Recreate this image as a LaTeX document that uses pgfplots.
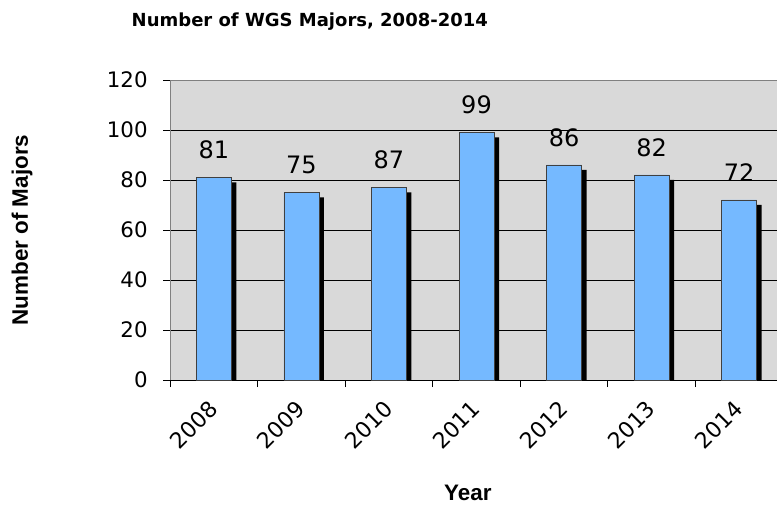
\documentclass[border=0pt]{standalone}
\usepackage{fontspec}
\setmainfont{DejaVu Sans}
\newfontfamily\labelfont{Liberation Sans}
\usepackage{pgfplots}
\pgfplotsset{compat=1.18}
\definecolor{BarBlue}{HTML}{75B9FF}
\definecolor{PlotGray}{HTML}{D9D9D9}
\definecolor{EdgeGray}{HTML}{808080}

\begin{document}
\begin{tikzpicture}
\useasboundingbox (0,0) rectangle (582.75pt,379.5pt);
\clip (0,0) rectangle (582.75pt,379.5pt);
\begin{axis}[
    at={(127.5pt,94.5pt)}, anchor=south west,
    scale only axis,
    width=459.75pt, height=225pt,
    xmin=-0.5, xmax=6.5,
    ymin=0, ymax=120,
    axis lines*=left,
    axis background/.style={fill=PlotGray, draw=EdgeGray},
    x axis line style={black, line width=0.75pt},
    y axis line style={EdgeGray, line width=0.75pt},
    ytick={0,20,...,100},
    extra y ticks={120},
    extra y tick style={grid=none},
    ymajorgrids,
    grid style={black, line width=0.7pt},
    xtick={-0.5,0.5,...,6.5},
    xticklabels={2008,2009,2010,2011,2012,2013,2014,{}},
    tick align=outside,
    major tick length=5.25pt,
    tick style={black, line width=0.6pt},
    /pgf/number format/assume math mode=true,
    yticklabel style={font=\fontsize{16}{18}\selectfont, xshift=-8pt},
    xticklabel style={font=\fontsize{16.5}{18}\selectfont,
        xshift=35pt, yshift=-11pt, rotate=45, anchor=east},
    title={Number of WGS Majors, 2008-2014},
    title style={font=\bfseries\fontsize{13.5}{16}\selectfont,
        at={(axis description cs:-0.0701,1.152)}, anchor=base west},
    ylabel={Number of Majors},
    ylabel style={font=\labelfont\bfseries\fontsize{16.8}{19}\selectfont,
        at={(axis description cs:-0.2414,0.5)}, anchor=center},
    xlabel={Year},
    xlabel style={font=\labelfont\bfseries\fontsize{16.8}{19}\selectfont,
        at={(axis description cs:0.486,-0.375)}, anchor=center},
]
% shadow behind the bars
\addplot[ybar, bar width=26.25pt, bar shift=3.75pt, yshift=-3.75pt,
    fill=black, draw=none, forget plot]
    coordinates {(0,81) (1,75) (2,77) (3,99) (4,86) (5,82) (6,72)};
\addplot[ybar, bar width=26.25pt, bar shift=0pt,
    fill=BarBlue, draw=black!75, line width=0.5pt,
    nodes near coords, point meta=explicit symbolic,
    every node near coord/.append style={font=\fontsize{18}{20}\selectfont,
        black, anchor=base, yshift=14pt}]
    coordinates {(0,81)[81] (1,75)[75] (2,77)[87] (3,99)[99] (4,86)[86] (5,82)[82] (6,72)[72]};
\end{axis}
\end{tikzpicture}
\end{document}
